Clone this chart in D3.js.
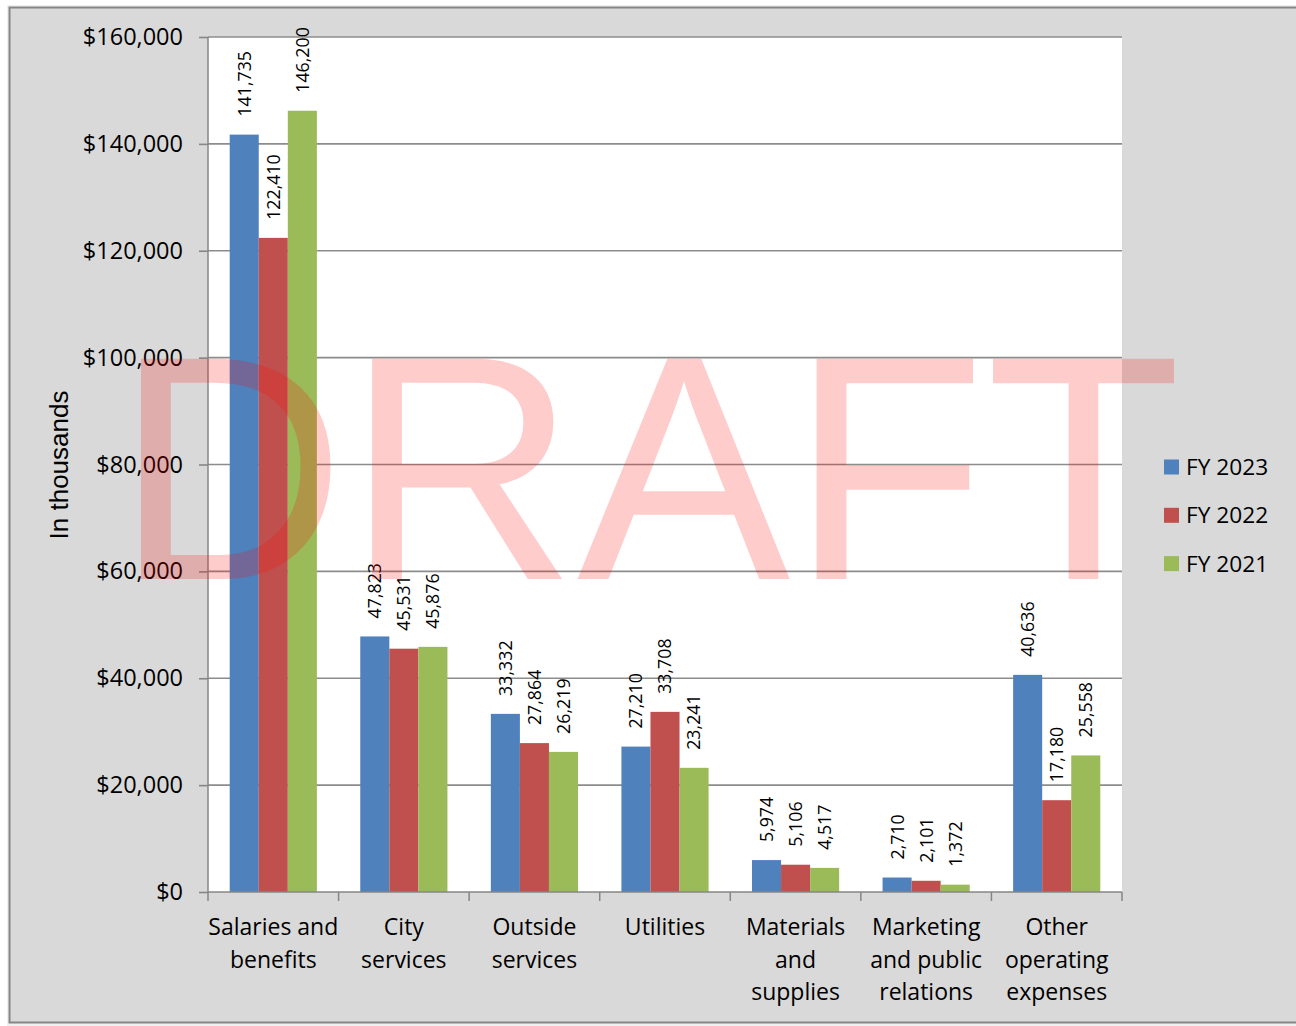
<!DOCTYPE html>
<html>
<head>
<meta charset="utf-8">
<script src="https://cdn.jsdelivr.net/npm/d3@7"></script>
<style>
  body { margin: 0; background: #fff; }
  svg { display: block; }
</style>
</head>
<body>
<svg id="chart" width="1296" height="1026"></svg>
<script>
const categories = [
  ["Salaries and", "benefits"],
  ["City", "services"],
  ["Outside", "services"],
  ["Utilities"],
  ["Materials", "and", "supplies"],
  ["Marketing", "and public", "relations"],
  ["Other", "operating", "expenses"]
];
const seriesNames = ["FY 2023", "FY 2022", "FY 2021"];
const fy2023 = [141735, 47823, 33332, 27210, 5974, 2710, 40636];
const fy2022 = [122410, 45531, 27864, 33708, 5106, 2101, 17180];
const fy2021 = [146200, 45876, 26219, 23241, 4517, 1372, 25558];
const yTicks = [0, 20000, 40000, 60000, 80000, 100000, 120000, 140000, 160000];

const W = 1296, H = 1026;
const plot = { left: 208, right: 1122, top: 37, bottom: 892 };
const FONT = "'Open Sans', sans-serif";

const svg = d3.select("#chart");
const values = [fy2023, fy2022, fy2021];
const catKeys = categories.map(c => c.join(" "));
const rows = catKeys.map((k, i) => ({ key: k, lines: categories[i], vals: values.map(v => v[i]) }));

const color = d3.scaleOrdinal().domain(seriesNames).range(["#4f81bd", "#c0504d", "#9bbb59"]);
const x0 = d3.scaleBand().domain(catKeys).range([plot.left, plot.right]);
const bw = x0.bandwidth();
const x1 = d3.scaleBand().domain(seriesNames).range([21.7, bw - 21.7]);
const y = d3.scaleLinear().domain([0, 160000]).range([plot.bottom, plot.top]);

// Chart area background + border
svg.append("rect").attr("x", 7).attr("y", 5).attr("width", 1300).attr("height", 1021)
  .attr("fill", "#f0f0f0");
svg.append("rect").attr("x", 9.5).attr("y", 7.5).attr("width", 1300).attr("height", 1015)
  .attr("fill", "#d9d9d9").attr("stroke", "#868686").attr("stroke-width", 2);

// Plot area
svg.append("rect").attr("x", plot.left).attr("y", plot.top)
  .attr("width", plot.right - plot.left).attr("height", plot.bottom - plot.top)
  .attr("fill", "#ffffff");

// Grid
svg.append("g").selectAll("line").data(yTicks.filter(d => d > 0)).join("line")
  .attr("x1", plot.left).attr("x2", plot.right)
  .attr("y1", d => y(d)).attr("y2", d => y(d))
  .attr("stroke", "#8c8c8c").attr("stroke-width", 1.6);

// Bars
const groups = svg.append("g").selectAll("g").data(rows).join("g")
  .attr("transform", d => `translate(${x0(d.key)},0)`);

groups.selectAll("rect").data(d => d.vals.map((v, i) => ({ s: seriesNames[i], v }))).join("rect")
  .attr("x", d => x1(d.s)).attr("width", x1.bandwidth())
  .attr("y", d => y(d.v)).attr("height", d => y(0) - y(d.v))
  .attr("fill", d => color(d.s));

// Data labels
groups.selectAll("text").data(d => d.vals.map((v, i) => ({ s: seriesNames[i], v }))).join("text")
  .attr("transform", d => `translate(${x1(d.s) + x1.bandwidth() / 2},${y(d.v) - 18}) rotate(-90)`)
  .attr("dy", "0.36em")
  .style("font-family", FONT).style("font-size", "17.8px").style("fill", "#000")
  .text(d => d3.format(",")(d.v));

// Y axis
svg.append("g")
  .attr("transform", `translate(${plot.left},0)`)
  .call(d3.axisLeft(y).tickValues(yTicks).tickSize(9).tickPadding(16).tickFormat(d => "$" + d3.format(",")(d)))
  .call(ax => {
    ax.select(".domain").attr("stroke", "#868686").attr("stroke-width", 1.5).attr("d", `M0,${plot.top}V${plot.bottom}`);
    ax.selectAll(".tick line").attr("stroke", "#868686").attr("stroke-width", 1.6);
    ax.selectAll(".tick text").style("font-family", FONT).style("font-size", "23.5px").style("fill", "#000");
  });

// X axis
const bounds = catKeys.map(k => x0(k)).concat([plot.right]);
const xa = svg.append("g");
xa.append("line").attr("x1", plot.left).attr("x2", plot.right)
  .attr("y1", plot.bottom).attr("y2", plot.bottom)
  .attr("stroke", "#868686").attr("stroke-width", 1.6);
xa.selectAll(".xt").data(bounds).join("line").attr("class", "xt")
  .attr("x1", d => d).attr("x2", d => d)
  .attr("y1", plot.bottom).attr("y2", plot.bottom + 9)
  .attr("stroke", "#868686").attr("stroke-width", 1.5);

const catText = xa.selectAll(".cl").data(rows).join("text").attr("class", "cl")
  .attr("text-anchor", "middle")
  .style("font-family", FONT).style("font-size", "23px").style("fill", "#000");
catText.selectAll("tspan").data(d => d.lines.map(l => ({ l, c: x0(d.key) + bw / 2 }))).join("tspan")
  .attr("x", d => d.c).attr("y", (d, i) => 935 + i * 32.6)
  .text(d => d.l);

// Y axis title
svg.append("text")
  .attr("transform", `translate(68,465) rotate(-90)`)
  .attr("text-anchor", "middle")
  .style("font-family", "'Liberation Sans', Arial, sans-serif").style("font-size", "26px").style("fill", "#000")
  .text("In thousands");

// Legend
const legend = svg.append("g");
seriesNames.forEach((s, i) => {
  const cy = 467 + i * 48.3;
  legend.append("rect").attr("x", 1164).attr("y", cy - 7.5).attr("width", 15).attr("height", 15).attr("fill", color(s));
  legend.append("text").attr("x", 1186).attr("y", cy).attr("dy", "0.36em")
    .style("font-family", FONT).style("font-size", "22.7px").style("fill", "#000")
    .text(s);
});

// Watermark
svg.append("text")
  .attr("x", 648).attr("y", 579)
  .attr("text-anchor", "middle")
  .style("font-family", "'Liberation Sans', Arial, sans-serif").style("font-size", "320px")
  .style("fill", "#ff0000").style("fill-opacity", 0.2)
  .text("DRAFT");
</script>
</body>
</html>
